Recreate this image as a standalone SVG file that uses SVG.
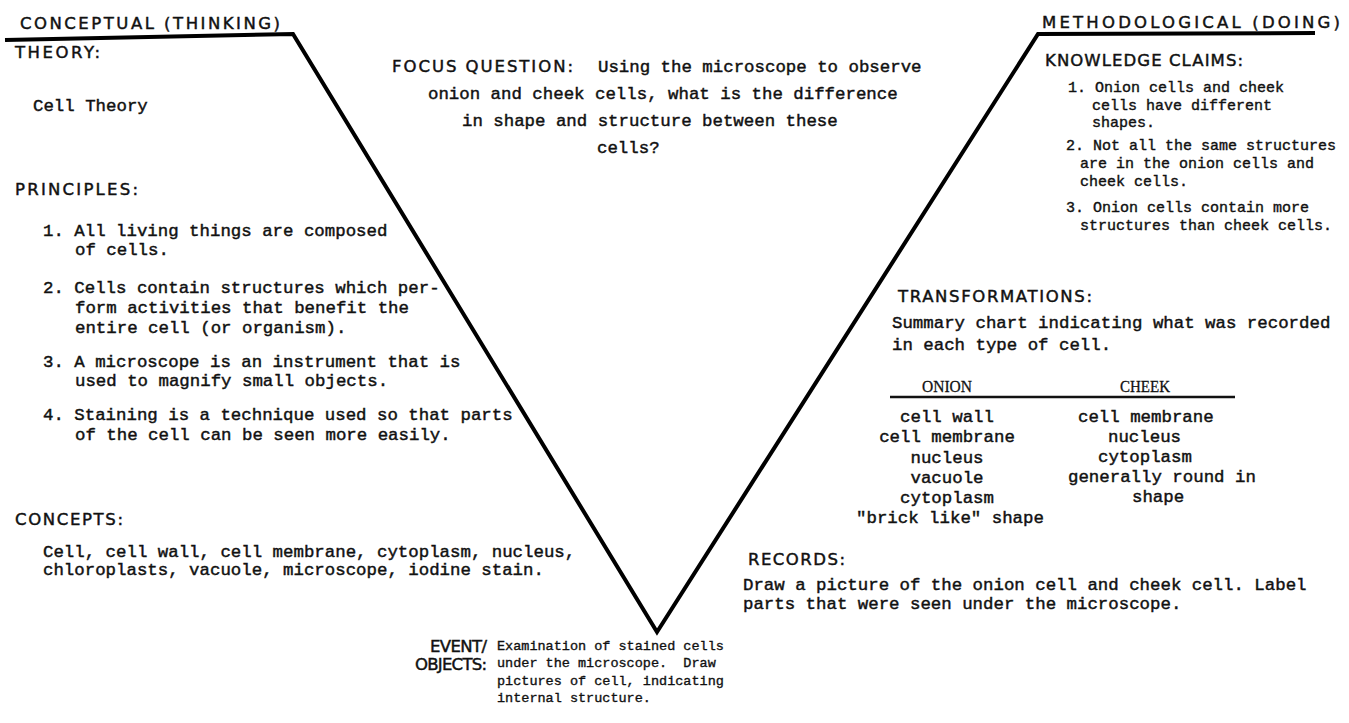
<svg xmlns="http://www.w3.org/2000/svg" width="1349" height="723" viewBox="0 0 1349 723">
<style>
.h{font-family:"DejaVu Sans","Liberation Sans",sans-serif;font-size:16.5px;fill:#111;stroke:#111;stroke-width:0.45}
.b{font-family:"Liberation Mono","DejaVu Sans Mono",monospace;font-size:17.4px;fill:#111;stroke:#111;stroke-width:0.45}
.k{font-family:"Liberation Mono","DejaVu Sans Mono",monospace;font-size:15px;fill:#111;stroke:#111;stroke-width:0.4}
.e{font-family:"Liberation Mono","DejaVu Sans Mono",monospace;font-size:13.5px;fill:#111;stroke:#111;stroke-width:0.35}
.t{font-family:"Liberation Serif","Times New Roman",serif;font-size:17px;fill:#111;stroke:#111;stroke-width:0.3}
.m{text-anchor:middle}
.vee{fill:none;stroke:#000;stroke-width:4;stroke-linejoin:miter}
</style>
<rect width="1349" height="723" fill="#fff"/>
<g id="connectors">
<path id="vee" class="vee" d="M5,40 L293,34 L657,632 L1038,34 L1315,33"/>
</g>
<g id="conceptual-title">
<text class="h" x="20" y="29" textLength="260" lengthAdjust="spacing">CONCEPTUAL (THINKING)</text>
</g>
<g id="methodological-title">
<text class="h" x="1042" y="28" textLength="298" lengthAdjust="spacing">METHODOLOGICAL (DOING)</text>
</g>
<g id="theory">
<text class="h" x="15" y="58" textLength="85" lengthAdjust="spacing">THEORY:</text>
<text class="b" x="33" y="111">Cell Theory</text>
</g>
<g id="principles">
<text class="h" x="15" y="195" textLength="123" lengthAdjust="spacing">PRINCIPLES:</text>
<text class="b" x="43" y="236">1. All living things are composed</text>
<text class="b" x="75" y="255">of cells.</text>
<text class="b" x="43" y="293">2. Cells contain structures which per-</text>
<text class="b" x="75" y="313">form activities that benefit the</text>
<text class="b" x="75" y="333">entire cell (or organism).</text>
<text class="b" x="43" y="367">3. A microscope is an instrument that is</text>
<text class="b" x="75" y="386">used to magnify small objects.</text>
<text class="b" x="43" y="420">4. Staining is a technique used so that parts</text>
<text class="b" x="75" y="440">of the cell can be seen more easily.</text>
</g>
<g id="concepts">
<text class="h" x="15" y="525" textLength="108" lengthAdjust="spacing">CONCEPTS:</text>
<text class="b" x="43" y="557">Cell, cell wall, cell membrane, cytoplasm, nucleus,</text>
<text class="b" x="43" y="575">chloroplasts, vacuole, microscope, iodine stain.</text>
</g>
<g id="focus-question">
<text class="h" x="392" y="72" textLength="181" lengthAdjust="spacing">FOCUS QUESTION:</text>
<text class="b" x="598" y="72">Using the microscope to observe</text>
<text class="b" x="428" y="99">onion and cheek cells, what is the difference</text>
<text class="b" x="462" y="126">in shape and structure between these</text>
<text class="b" x="597" y="153">cells?</text>
</g>
<g id="knowledge-claims">
<text class="h" x="1045" y="66" textLength="198" lengthAdjust="spacing">KNOWLEDGE CLAIMS:</text>
<text class="k" x="1068" y="92">1. Onion cells and cheek</text>
<text class="k" x="1092" y="110">cells have different</text>
<text class="k" x="1092" y="127">shapes.</text>
<text class="k" x="1066" y="150">2. Not all the same structures</text>
<text class="k" x="1080" y="168">are in the onion cells and</text>
<text class="k" x="1080" y="186">cheek cells.</text>
<text class="k" x="1066" y="212">3. Onion cells contain more</text>
<text class="k" x="1080" y="230">structures than cheek cells.</text>
</g>
<g id="transformations">
<text class="h" x="898" y="302" textLength="194" lengthAdjust="spacing">TRANSFORMATIONS:</text>
<text class="b" x="892" y="328">Summary chart indicating what was recorded</text>
<text class="b" x="892" y="350">in each type of cell.</text>
<text class="t m" x="947" y="392" textLength="50" lengthAdjust="spacingAndGlyphs">ONION</text>
<text class="t m" x="1145" y="392" textLength="50" lengthAdjust="spacingAndGlyphs">CHEEK</text>
<line x1="890" y1="397" x2="1235" y2="397" stroke="#111" stroke-width="2.5"/>
<text class="b m" x="947" y="422">cell wall</text>
<text class="b m" x="947" y="442">cell membrane</text>
<text class="b m" x="947" y="463">nucleus</text>
<text class="b m" x="947" y="483">vacuole</text>
<text class="b m" x="947" y="503">cytoplasm</text>
<text class="b m" x="950" y="523">"brick like" shape</text>
<text class="b" x="1078" y="422">cell membrane</text>
<text class="b" x="1108" y="442">nucleus</text>
<text class="b" x="1098" y="462">cytoplasm</text>
<text class="b" x="1068" y="482">generally round in</text>
<text class="b" x="1132" y="502">shape</text>
</g>
<g id="records">
<text class="h" x="748" y="565" textLength="97" lengthAdjust="spacing">RECORDS:</text>
<text class="b" x="743" y="590">Draw a picture of the onion cell and cheek cell. Label</text>
<text class="b" x="743" y="609">parts that were seen under the microscope.</text>
</g>
<g id="event-objects">
<text class="h" x="430" y="652" textLength="57" lengthAdjust="spacing">EVENT/</text>
<text class="h" x="415" y="670" textLength="72" lengthAdjust="spacing">OBJECTS:</text>
<text class="e" x="497" y="650">Examination of stained cells</text>
<text class="e" x="497" y="667" xml:space="preserve">under the microscope.  Draw</text>
<text class="e" x="497" y="685">pictures of cell, indicating</text>
<text class="e" x="497" y="702">internal structure.</text>
</g>
</svg>
